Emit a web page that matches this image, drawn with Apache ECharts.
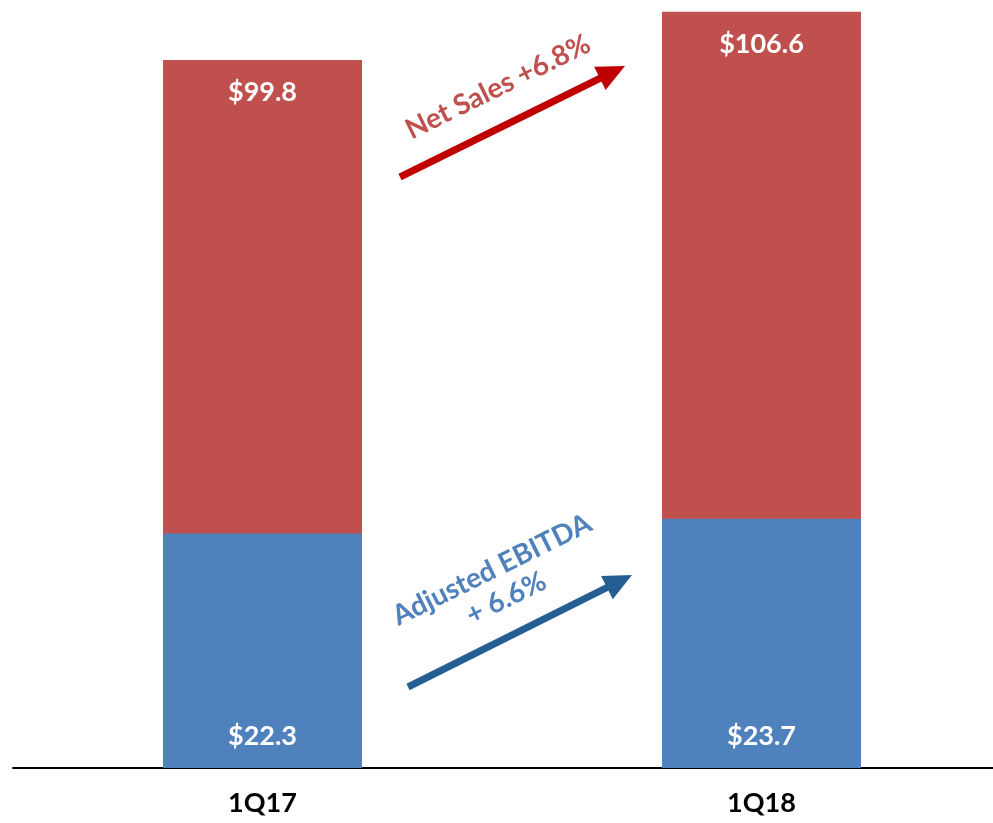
<!DOCTYPE html>
<html>
<head>
<meta charset="utf-8">
<script src="https://cdn.jsdelivr.net/npm/echarts@6/dist/echarts.min.js"></script>
<style>html,body{margin:0;padding:0;background:#fff}#c{width:993px;height:823px}</style>
</head>
<body>
<div id="c"></div>
<script>
const categories = ['1Q17', '1Q18'];
const netSales = [99.8, 106.6];
const adjEbitda = [22.3, 23.7];
const netSalesNote = 'Net Sales +6.8%';
const ebitdaNote = 'Adjusted EBITDA\n+ 6.6%';

const FONT = 'Lato';
function arrow(tail, tip, color, width, headLen, headHalf) {
  const dx = tip[0] - tail[0], dy = tip[1] - tail[1];
  const L = Math.sqrt(dx * dx + dy * dy);
  const ux = dx / L, uy = dy / L;
  const px = -uy, py = ux;
  const bx = tip[0] - ux * headLen, by = tip[1] - uy * headLen;
  return [
    { type: 'line', shape: { x1: tail[0], y1: tail[1], x2: bx + ux * 2, y2: by + uy * 2 },
      style: { stroke: color, lineWidth: width }, z: 10 },
    { type: 'polygon', shape: { points: [[tip[0], tip[1]], [bx + px * headHalf, by + py * headHalf], [bx - px * headHalf, by - py * headHalf]] },
      style: { fill: color }, z: 10 }
  ];
}
const ang = Math.atan2(111, 225);

const chart = echarts.init(document.getElementById('c'));
chart.setOption({
  animation: false,
  backgroundColor: '#fff',
  grid: { left: 13, width: 998, top: 9.5, bottom: 55, containLabel: false, outerBoundsMode: 'none' },
  xAxis: {
    type: 'category', data: categories,
    axisLine: { lineStyle: { color: '#000', width: 2 } },
    axisTick: { show: false },
    axisLabel: { color: '#000', fontFamily: FONT, fontWeight: 'bold', fontSize: 27, margin: 22 }
  },
  yAxis: [
    { type: 'value', min: 0, max: 106.9, show: false, splitLine: { show: false } },
    { type: 'value', min: 0, max: 72.1, show: false, splitLine: { show: false } }
  ],
  series: [
    { type: 'bar', yAxisIndex: 0, data: netSales, barWidth: 199, barGap: '-100%',
      itemStyle: { color: '#C0504D' },
      label: { show: true, position: 'insideTop', distance: 19, color: '#fff', fontFamily: FONT, fontWeight: 'bold', fontSize: 27,
        formatter: p => '$' + p.value.toFixed(1) } },
    { type: 'bar', yAxisIndex: 1, data: adjEbitda, barWidth: 199, barGap: '-100%',
      itemStyle: { color: '#4F81BD' },
      label: { show: true, position: 'insideBottom', distance: 18, color: '#fff', fontFamily: FONT, fontWeight: 'bold', fontSize: 27,
        formatter: p => '$' + p.value.toFixed(1) } }
  ],
  graphic: [
    ...arrow([400, 177], [625, 66], '#C00000', 7, 28, 13),
    ...arrow([408, 687], [632, 575], '#255E91', 7, 28, 13),
    { type: 'text', x: 498, y: 87, rotation: ang, z: 10,
      style: { text: netSalesNote, fill: '#C0504D', font: 'bold 28px Lato', align: 'center', verticalAlign: 'middle' } },
    { type: 'text', x: 499, y: 584, rotation: ang, z: 10,
      style: { text: ebitdaNote, fill: '#4F81BD', font: 'bold 28px Lato', align: 'center', verticalAlign: 'middle', lineHeight: 32 } }
  ]
});
</script>
</body>
</html>
